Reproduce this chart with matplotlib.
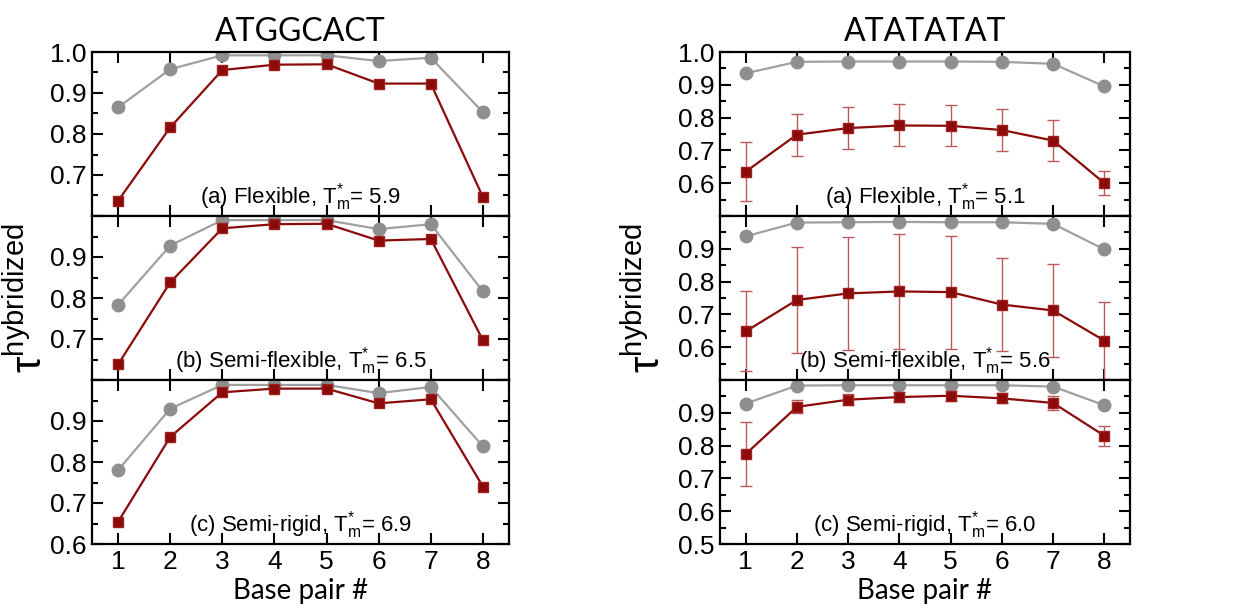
import matplotlib
matplotlib.use("Agg")
import matplotlib.pyplot as plt
from matplotlib.ticker import MultipleLocator, FixedLocator

plt.rcParams['font.family'] = ['Liberation Sans', 'DejaVu Sans']
plt.rcParams['mathtext.fontset'] = 'custom'
plt.rcParams['mathtext.rm'] = 'Liberation Sans'
plt.rcParams['mathtext.it'] = 'Liberation Sans:italic'

base_pairs = [1, 2, 3, 4, 5, 6, 7, 8]
titles = ["ATGGCACT", "ATATATAT"]
labels_left = ["(a) Flexible, T$_{\\rm m}^{*}$= 5.9",
               "(b) Semi-flexible, T$_{\\rm m}^{*}$= 6.5",
               "(c) Semi-rigid, T$_{\\rm m}^{*}$= 6.9"]
labels_right = ["(a) Flexible, T$_{\\rm m}^{*}$= 5.1",
                "(b) Semi-flexible, T$_{\\rm m}^{*}$= 5.6",
                "(c) Semi-rigid, T$_{\\rm m}^{*}$= 6.0"]

# ATGGCACT
left_gray_a = [0.865, 0.958, 0.992, 0.992, 0.992, 0.978, 0.986, 0.853]
left_red_a = [0.637, 0.816, 0.956, 0.969, 0.970, 0.923, 0.923, 0.646]
left_gray_b = [0.783, 0.928, 0.990, 0.990, 0.990, 0.968, 0.980, 0.816]
left_red_b = [0.638, 0.838, 0.970, 0.980, 0.981, 0.940, 0.944, 0.697]
left_gray_c = [0.780, 0.930, 0.988, 0.988, 0.988, 0.968, 0.983, 0.838]
left_red_c = [0.654, 0.861, 0.970, 0.979, 0.979, 0.943, 0.953, 0.740]

# ATATATAT
right_gray_a = [0.935, 0.970, 0.971, 0.971, 0.971, 0.970, 0.964, 0.895]
right_red_a = [0.635, 0.748, 0.768, 0.776, 0.775, 0.762, 0.730, 0.600]
right_err_a = [0.090, 0.064, 0.064, 0.064, 0.062, 0.063, 0.062, 0.036]
right_gray_b = [0.938, 0.980, 0.981, 0.982, 0.981, 0.981, 0.976, 0.898]
right_red_b = [0.648, 0.744, 0.764, 0.770, 0.768, 0.730, 0.712, 0.620]
right_err_b = [0.122, 0.162, 0.172, 0.175, 0.172, 0.143, 0.142, 0.118]
right_gray_c = [0.928, 0.983, 0.984, 0.984, 0.984, 0.984, 0.980, 0.923]
right_red_c = [0.774, 0.918, 0.940, 0.948, 0.952, 0.944, 0.930, 0.830]
right_err_c = [0.097, 0.020, 0.016, 0.015, 0.015, 0.015, 0.020, 0.030]

RED = "#8b0a0a"
GRAY = "#8f8f8f"

fig = plt.figure(figsize=(12.41, 6.13), dpi=100)

W, H = 1241, 613
panel_h = 164 / H
tops = [52, 216, 380]


def setup_axes(ax, ymin, shown, bottom):
    ax.set_xlim(0.5, 8.5)
    ax.set_ylim(ymin, 1.0)
    ax.yaxis.set_major_locator(MultipleLocator(0.1))
    ax.yaxis.set_minor_locator(MultipleLocator(0.05))
    ax.xaxis.set_major_locator(FixedLocator(base_pairs))
    ax.tick_params(which='both', direction='in', top=True, right=True, width=1.5)
    ax.tick_params(which='major', length=8, labelsize=19, pad=4)
    ax.tick_params(which='minor', length=4)
    ax.tick_params(axis='x', which='minor', bottom=False, top=False)
    for s in ax.spines.values():
        s.set_linewidth(1.6)
    ticks = [round(ymin + 0.1 * i, 1) for i in range(int(round((1.0 - ymin) / 0.1)) + 1)]
    ax.set_yticks(ticks)
    ax.set_yticklabels([f"{t:.1f}" if t in shown else "" for t in ticks])
    if bottom:
        ax.set_xticklabels([str(b) for b in base_pairs])
        ax.set_xlabel("Base pair #", fontsize=20, family=['Lato', 'DejaVu Sans'], labelpad=3)
    else:
        ax.set_xticklabels([])


def draw_panel(ax, gray, red, err, label):
    ax.plot(base_pairs, gray, '-o', color="#a0a0a0", mfc=GRAY, mec=GRAY, ms=9, lw=1.6, zorder=2)
    if err is None:
        ax.plot(base_pairs, red, '-s', color=RED, mfc=RED, mec="#a02020", ms=7.5, lw=1.6, zorder=3)
    else:
        ax.errorbar(base_pairs, red, yerr=err, fmt='-s', color=RED, mfc=RED, mec="#a02020",
                    ms=7.5, lw=1.6, ecolor="#bb5a5a", elinewidth=1.0, capsize=4, capthick=1.0, zorder=3)
    ax.text(0.5, 0.02, label, transform=ax.transAxes, ha='center', va='bottom', fontsize=16)


columns = [
    dict(x0=92, x1=509, ymin=0.6, title=titles[0], labels=labels_left,
         gray=[left_gray_a, left_gray_b, left_gray_c],
         red=[left_red_a, left_red_b, left_red_c],
         err=[None, None, None],
         shown=[[0.7, 0.8, 0.9, 1.0], [0.7, 0.8, 0.9], [0.6, 0.7, 0.8, 0.9]],
         ylab_x=30),
    dict(x0=720, x1=1130, ymin=0.5, title=titles[1], labels=labels_right,
         gray=[right_gray_a, right_gray_b, right_gray_c],
         red=[right_red_a, right_red_b, right_red_c],
         err=[right_err_a, right_err_b, right_err_c],
         shown=[[0.6, 0.7, 0.8, 0.9, 1.0], [0.6, 0.7, 0.8, 0.9], [0.5, 0.6, 0.7, 0.8, 0.9]],
         ylab_x=648),
]

for col in columns:
    for i in range(3):
        rect = [col['x0'] / W, 1 - (tops[i] + 164) / H, (col['x1'] - col['x0']) / W, panel_h]
        ax = fig.add_axes(rect)
        draw_panel(ax, col['gray'][i], col['red'][i], col['err'][i], col['labels'][i])
        setup_axes(ax, col['ymin'], col['shown'][i], i == 2)
        if i == 0:
            ax.set_title(col['title'], fontsize=23, family=['Lato', 'DejaVu Sans'], pad=8)
    fig.text(col['ylab_x'] / W, 1 - 298 / H, "\u03c4$^{\\rm hybridized}$", rotation=90,
             ha='center', va='center', fontsize=30, family=['Liberation Sans', 'DejaVu Sans'])

fig.savefig("out.png", dpi=100)
